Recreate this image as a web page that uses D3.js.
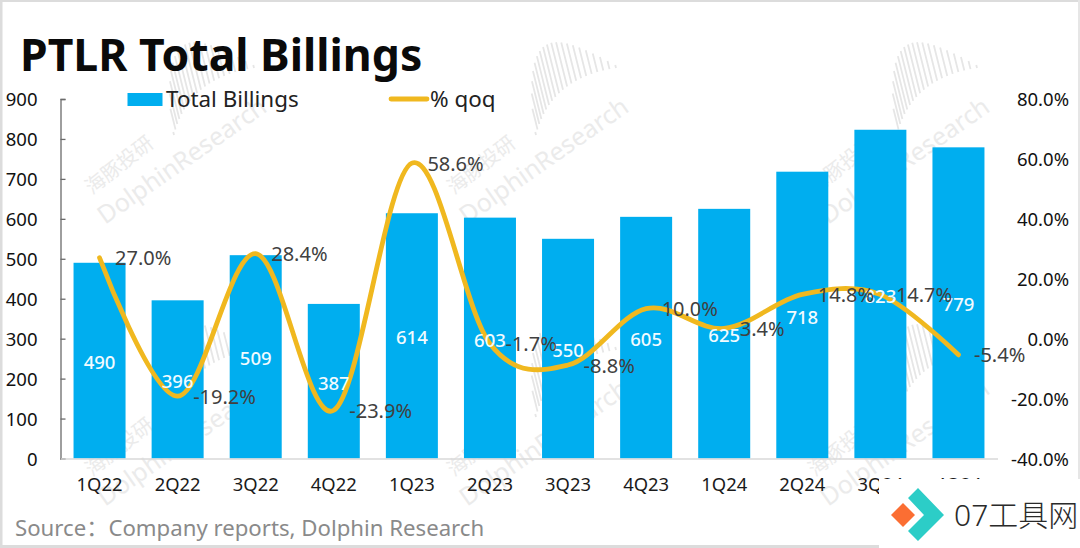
<!DOCTYPE html>
<html>
<head>
<meta charset="utf-8">
<script src="https://cdn.jsdelivr.net/npm/d3@7"></script>
<style>
  html, body { margin: 0; padding: 0; background: #fff; }
  svg { display: block; }
  text { font-family: "Noto Sans", "Noto Sans CJK SC", sans-serif; }
</style>
</head>
<body>
<script>
// values
var quarters = ["1Q22","2Q22","3Q22","4Q22","1Q23","2Q23","3Q23","4Q23","1Q24","2Q24","3Q24","4Q24"];
var billings = [490,396,509,387,614,603,550,605,625,718,823,779];
var qoq = [27.0,-19.2,28.4,-23.9,58.6,-1.7,-8.8,10.0,3.4,14.8,14.7,-5.4];
var leftTicks = [0,100,200,300,400,500,600,700,800,900];
var rightTicks = [-40,-20,0,20,40,60,80];

var width = 1080, height = 548;
var svg = d3.select("body").append("svg").attr("width", width).attr("height", height);

var x = d3.scaleBand().domain(quarters).range([60.5, 997.5]).paddingInner(0.334).paddingOuter(0.167);
var y = d3.scaleLinear().domain([0, 900]).range([458.5, 99]);
var y2 = d3.scaleLinear().domain([-40, 80]).range([458.5, 99]);
var mid = function (d) { return x(d) + x.bandwidth() / 2; };

/* WATERMARKS ****************************************************** */
var wm = svg.append("g").attr("class", "watermark");
[100, 462, 823].forEach(function (wx) {
  [0, 282].forEach(function (wy) {
    var g = wm.append("g").attr("transform", "translate(" + wx + "," + wy + ")");
    g.append("text").attr("transform", "translate(5,225) rotate(-35)")
      .attr("font-size", 25).attr("fill", "#ebebeb").text("DolphinResearch");
    g.append("text").attr("transform", "translate(-8,195) rotate(-38)")
      .attr("font-size", 20).attr("fill", "#ebebeb").text("海豚投研");
    // sound-wave fan, bars standing on a curved band
    d3.range(0, 21).forEach(function (i) {
      var t = i / 20, u = 1 - t;
      var bx = u * u * 74 + 2 * u * t * 88 + t * t * 154;
      var by = u * u * 135 + 2 * u * t * 78 + t * t * 68;
      var len = 3 + 47 * Math.sin(Math.PI * Math.pow(t, 0.7));
      g.append("line")
        .attr("x1", bx).attr("y1", by)
        .attr("x2", bx - len * 0.25).attr("y2", by - len)
        .attr("stroke", "#e6e6e6").attr("stroke-width", 1.8);
    });
  });
});

/* BARS ************************************************************ */
svg.append("g").selectAll("rect").data(quarters).join("rect")
  .attr("x", function (d) { return x(d); })
  .attr("width", x.bandwidth())
  .attr("y", function (d, i) { return y(billings[i]); })
  .attr("height", function (d, i) { return y(0) - y(billings[i]); })
  .attr("fill", "#00aeef");

/* AXES ************************************************************ */
var leftAxis = svg.append("g").attr("transform", "translate(60.5,0)")
  .call(d3.axisLeft(y).tickValues(leftTicks).tickSize(-5).tickPadding(23));
leftAxis.selectAll("path,line").attr("stroke", "#6b6b6b").attr("stroke-width", 1.3);
leftAxis.selectAll("text").attr("font-size", 18.5).attr("fill", "#111").attr("font-family", null).attr("dy", "0.36em");

var rightAxis = svg.append("g").attr("transform", "translate(1069,0)")
  .call(d3.axisLeft(y2).tickValues(rightTicks).tickSize(0).tickPadding(0).tickFormat(function (d) { return d.toFixed(1) + "%"; }));
rightAxis.select("path").remove();
rightAxis.selectAll("text").attr("font-size", 18.5).attr("fill", "#111").attr("font-family", null).attr("dy", "0.36em");

var bottomAxis = svg.append("g").attr("transform", "translate(0,458.5)")
  .call(d3.axisBottom(x).tickSize(0).tickPadding(19));
bottomAxis.select("path").attr("stroke", "#d9d9d9").attr("stroke-width", 1.3);
bottomAxis.selectAll("text").attr("font-size", 18.4).attr("fill", "#1a1a1a").attr("font-family", null);

/* LINE ************************************************************ */
var line = d3.line()
  .x(function (d, i) { return mid(quarters[i]); })
  .y(function (d) { return y2(d); })
  .curve(d3.curveCatmullRom.alpha(0));
svg.append("path").datum(qoq)
  .attr("d", line)
  .attr("fill", "none")
  .attr("stroke", "#f0b81f")
  .attr("stroke-width", 4.8)
  .attr("stroke-linecap", "round");

/* LABELS ********************************************************** */
svg.append("g").selectAll("text").data(quarters).join("text")
  .attr("x", mid)
  .attr("y", function (d, i) { return (y(billings[i]) + y(0)) / 2; })
  .attr("dy", "0.46em")
  .attr("text-anchor", "middle")
  .attr("font-size", 18.5)
  .attr("font-weight", 500)
  .attr("fill", "#f2fbff")
  .text(function (d, i) { return billings[i]; });

svg.append("g").selectAll("text").data(quarters).join("text")
  .attr("x", function (d) { return mid(d) + 15.5; })
  .attr("y", function (d, i) { return y2(qoq[i]); })
  .attr("dy", "0.38em")
  .attr("font-size", 20)
  .attr("fill", "#404040")
  .text(function (d, i) { return qoq[i].toFixed(1) + "%"; });

/* TITLE, LEGEND, SOURCE ******************************************* */
svg.append("text").attr("x", 20).attr("y", 71).attr("font-size", 44.5).attr("font-weight", 700).attr("fill", "#0a0a0a").text("PTLR Total Billings");

svg.append("rect").attr("x", 127.5).attr("y", 93).attr("width", 35).attr("height", 13).attr("fill", "#00aeef");
svg.append("text").attr("x", 166).attr("y", 106.5).attr("font-size", 22.4).attr("fill", "#222").text("Total Billings");
svg.append("line").attr("x1", 391).attr("x2", 427).attr("y1", 99).attr("y2", 99)
  .attr("stroke", "#f0b81f").attr("stroke-width", 4.8).attr("stroke-linecap", "round");
svg.append("text").attr("x", 430).attr("y", 106.5).attr("font-size", 22.4).attr("fill", "#222").text("% qoq");

svg.append("text").attr("x", 15).attr("y", 536).attr("font-size", 22.2).attr("fill", "#8a8a8a").text("Source：Company reports, Dolphin Research");

/* FRAME *********************************************************** */
svg.append("rect").attr("x", 0).attr("y", 0).attr("width", width).attr("height", 2).attr("fill", "#dcdcdc");
svg.append("rect").attr("x", 0).attr("y", 0).attr("width", 2.5).attr("height", height).attr("fill", "#dcdcdc");
svg.append("rect").attr("x", 0).attr("y", 545).attr("width", 880).attr("height", 3).attr("fill", "#dcdcdc");
svg.append("rect").attr("x", 1078).attr("y", 0).attr("width", 2).attr("height", 480).attr("fill", "#e6e6e6");

/* LOGO STAMP ****************************************************** */
var logo = svg.append("g");
logo.append("rect").attr("x", 879).attr("y", 479).attr("width", 201).attr("height", 69).attr("fill", "#fff");
logo.append("path").attr("d", "M891,515 L903,503 L915,515 L903,527 Z").attr("fill", "#fb6e33");
logo.append("path").attr("d", "M908,498 L918,488 L944,515 L918,541 L908,531 L924,515 Z").attr("fill", "#2ccdc7");
logo.append("text").attr("x", 954).attr("y", 526).attr("font-size", 30).attr("font-weight", 300).attr("fill", "#2a2a2a").text("07工具网");
</script>
</body>
</html>
